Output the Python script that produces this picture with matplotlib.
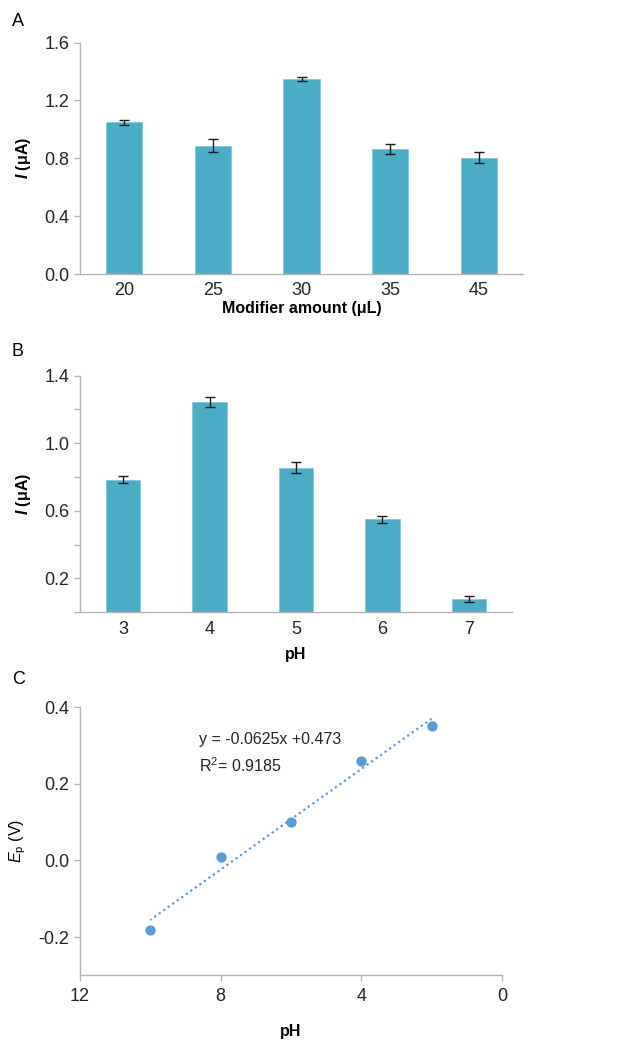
import numpy as np
import matplotlib.pyplot as plt

plt.rcParams['font.family'] = ['Liberation Sans', 'DejaVu Sans']
plt.rcParams['mathtext.fontset'] = 'custom'
plt.rcParams['mathtext.rm'] = 'Liberation Sans'
plt.rcParams['mathtext.it'] = 'Liberation Sans:italic'
plt.rcParams['mathtext.bf'] = 'Liberation Sans:bold'
plt.rcParams['mathtext.bfit'] = 'Liberation Sans:italic:bold'

# panel A: modifier amount
amount_labels = ['20', '25', '30', '35', '45']
amount_current = [1.049, 0.888, 1.351, 0.865, 0.805]
amount_err = [0.016, 0.045, 0.014, 0.036, 0.039]

# panel B: pH
ph_labels = ['3', '4', '5', '6', '7']
ph_current = [0.784, 1.244, 0.855, 0.549, 0.080]
ph_err = [0.021, 0.030, 0.034, 0.023, 0.019]

# panel C: peak potential vs pH
ph_values = [10, 8, 6, 4, 2]
ep_values = [-0.182, 0.010, 0.100, 0.260, 0.350]

bar_color = '#4bacc6'
dot_color = '#5b9bd5'
axis_gray = '#b4b4b4'
fs = 11.5
tfs = 13

fig = plt.figure(figsize=(6.28, 10.4), dpi=100)


def style(ax):
    for s in ['top', 'right']:
        ax.spines[s].set_visible(False)
    for s in ['left', 'bottom']:
        ax.spines[s].set_color(axis_gray)
        ax.spines[s].set_linewidth(1.0)
    ax.tick_params(axis='both', colors=axis_gray, labelcolor='#262626',
                   labelsize=tfs, length=4, width=1.0)


def bars(ax, labels, vals, errs, width):
    x = np.arange(len(labels))
    ax.bar(x, vals, width=width, color=bar_color, edgecolor='#7fc8dc', linewidth=0.6)
    ax.errorbar(x, vals, yerr=errs, fmt='none', ecolor='#1a1a1a',
                elinewidth=1.0, capsize=3.5, capthick=1.0)
    ax.set_xlim(-0.5, len(labels) - 0.5)
    ax.set_xticks(x)
    ax.set_xticklabels(labels)
    ax.tick_params(axis='x', length=0, pad=6)
    return x


# A
axA = fig.add_axes([0.1274, 0.7365, 0.7054, 0.2225])
style(axA)
bars(axA, amount_labels, amount_current, amount_err, 0.41)
axA.set_ylim(0, 1.6)
axA.set_yticks([0.0, 0.4, 0.8, 1.2, 1.6])
axA.set_yticklabels(['0.0', '0.4', '0.8', '1.2', '1.6'])
axA.set_ylabel(r'$\bfit{I}$ (μA)', fontsize=fs, fontweight='bold', labelpad=8)
axA.set_xlabel('Modifier amount (μL)', fontsize=fs, fontweight='bold', labelpad=1)
fig.text(0.019, 0.979, 'A', fontsize=tfs, va='center')

# B
axB = fig.add_axes([0.1274, 0.4113, 0.6879, 0.2275])
style(axB)
bars(axB, ph_labels, ph_current, ph_err, 0.40)
axB.set_ylim(0, 1.4)
axB.set_yticks([0.0, 0.2, 0.4, 0.6, 0.8, 1.0, 1.2, 1.4])
axB.set_yticklabels(['', '0.2', '', '0.6', '', '1.0', '', '1.4'])
axB.set_ylabel(r'$\bfit{I}$ (μA)', fontsize=fs, fontweight='bold', labelpad=8)
axB.set_xlabel('pH', fontsize=fs, fontweight='bold', labelpad=7)
fig.text(0.019, 0.662, 'B', fontsize=tfs, va='center')

# C
axC = fig.add_axes([0.1274, 0.0622, 0.6720, 0.2577])
style(axC)
axC.scatter(ph_values, ep_values, s=55, color=dot_color, zorder=3, linewidths=0)
k, b = np.polyfit(ph_values, ep_values, 1)
xf = np.array([min(ph_values), max(ph_values)])
axC.plot(xf, k * xf + b, linestyle=(0, (1, 1.5)), color=dot_color, linewidth=1.6)
axC.set_xlim(12, 0)
axC.set_xticks([12, 8, 4, 0])
axC.set_ylim(-0.3, 0.4)
axC.set_yticks([-0.2, 0.0, 0.2, 0.4])
axC.set_yticklabels(['-0.2', '0.0', '0.2', '0.4'])
axC.tick_params(axis='x', pad=5)
axC.set_ylabel(r'$\mathit{E}_\mathrm{p}$ (V)', fontsize=fs, labelpad=8)
axC.set_xlabel('pH', fontsize=fs, fontweight='bold', labelpad=14)
axC.text(8.62, 0.317, 'y = -0.0625x +0.473', fontsize=fs, va='center', color='#262626')
axC.text(8.62, 0.247, 'R$^2$= 0.9185', fontsize=fs, va='center', color='#262626')
fig.text(0.019, 0.3465, 'C', fontsize=tfs, va='center')

fig.savefig('out.png', dpi=100)
